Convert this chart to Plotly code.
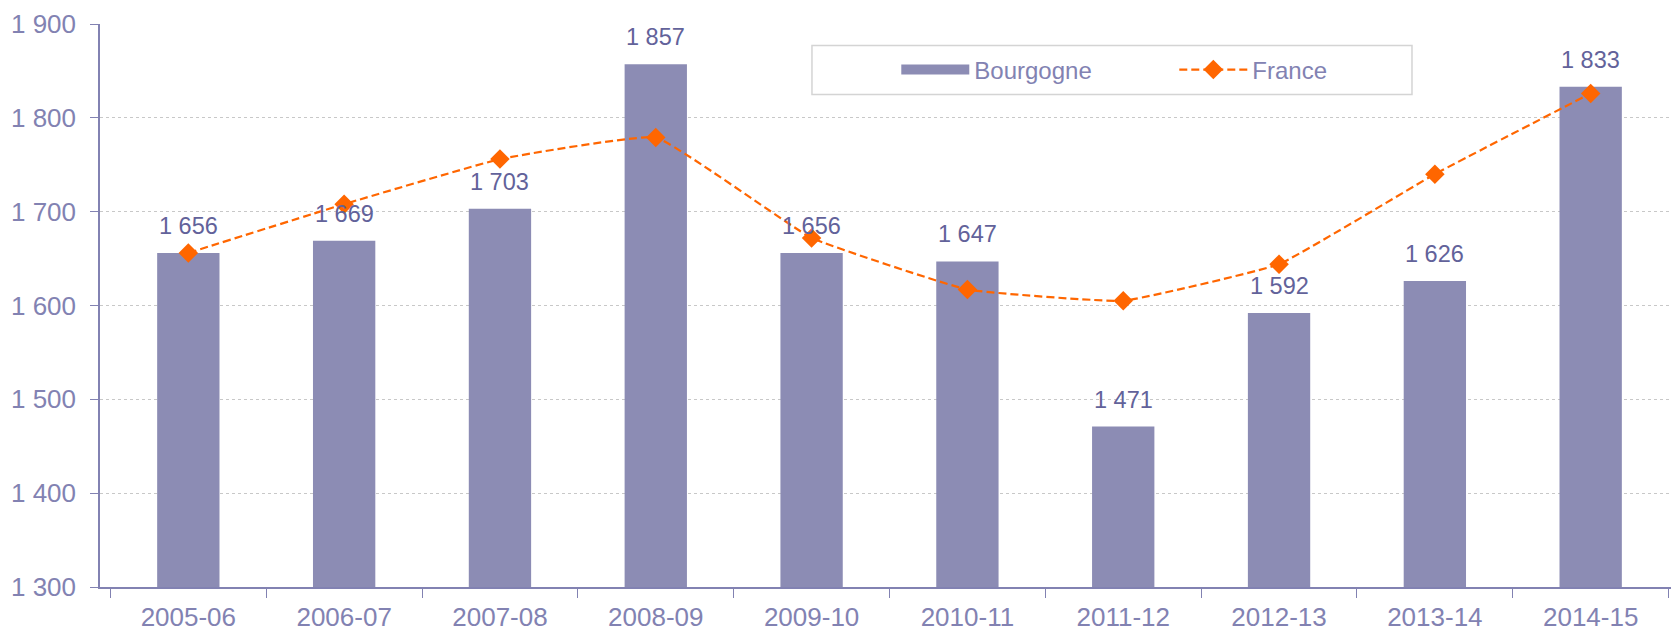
import plotly.graph_objects as go

categories = ["2005-06", "2006-07", "2007-08", "2008-09", "2009-10",
              "2010-11", "2011-12", "2012-13", "2013-14", "2014-15"]
bourgogne = [1656, 1669, 1703, 1857, 1656, 1647, 1471, 1592, 1626, 1833]
france = [1656, 1708, 1756, 1779, 1672, 1617, 1605, 1644, 1740, 1826]
y_ticks = [1300, 1400, 1500, 1600, 1700, 1800, 1900]

def fmt(v):
    return f"{v:,}".replace(",", " ")

bar_color = "#8c8cb4"
axis_color = "#8282b2"
label_color = "#62629a"
orange = "#ff6600"
FONT = "Liberation Sans, Arial"

fig = go.Figure()
fig.add_trace(go.Bar(
    x=categories, y=bourgogne, name="Bourgogne",
    marker=dict(color=bar_color, line=dict(width=0)),
    width=0.4, showlegend=False,
))
# legend-only entry for Bourgogne (wide rectangle symbol)
fig.add_trace(go.Scatter(
    x=[categories[0]], y=[None], name="Bourgogne", mode="lines",
    line=dict(color=bar_color, width=13), legendrank=1,
))
fig.add_trace(go.Scatter(
    x=categories, y=france, name="France", mode="lines+markers",
    line=dict(color=orange, width=2.2, dash="8px,4px", shape="spline", smoothing=0.3),
    marker=dict(symbol="diamond", size=15, color=orange),
    cliponaxis=False, legendrank=2,
))

for c, v in zip(categories, bourgogne):
    fig.add_annotation(
        x=c, y=v, text=fmt(v), showarrow=False, yanchor="bottom",
        yshift=12, font=dict(family=FONT, size=23.5, color=label_color),
    )

# legend frame
fig.add_shape(
    type="rect", xref="paper", yref="paper",
    x0=0.4509, x1=0.8309, y0=0.8749, y1=0.9618,
    line=dict(color="#d4d4d4", width=1.5), fillcolor="white", layer="below",
)

# the page body adds an 8px offset, so the figure is sized 8px smaller
fig.update_layout(
    width=1671, height=623,
    margin=dict(l=92, r=0, t=15.5, b=44),
    paper_bgcolor="white", plot_bgcolor="white",
    font=dict(family=FONT, color=axis_color),
    showlegend=True,
    legend=dict(
        orientation="h", x=0.5043, y=0.9583, xanchor="left", yanchor="top",
        borderwidth=0, bgcolor="rgba(0,0,0,0)",
        font=dict(size=24, color=axis_color),
        entrywidth=195, itemwidth=68,
    ),
)
fig.update_xaxes(
    type="category", showline=True, linecolor=axis_color, linewidth=1.5,
    ticks="outside", tickson="boundaries", ticklen=9, tickcolor=axis_color,
    tickfont=dict(size=26, color=axis_color), showgrid=False,
    ticklabelstandoff=6, automargin=False,
)
fig.update_yaxes(
    range=[1300, 1900], tickvals=y_ticks, ticktext=[fmt(v) for v in y_ticks],
    showline=True, linecolor=axis_color, linewidth=1.5,
    ticks="outside", ticklen=8, tickcolor=axis_color,
    tickfont=dict(size=26, color=axis_color), ticklabelstandoff=9,
    showgrid=True, gridcolor="#c8c8c8", griddash="dot", gridwidth=1,
    zeroline=False, automargin=False,
)

fig.write_html("out.html")
